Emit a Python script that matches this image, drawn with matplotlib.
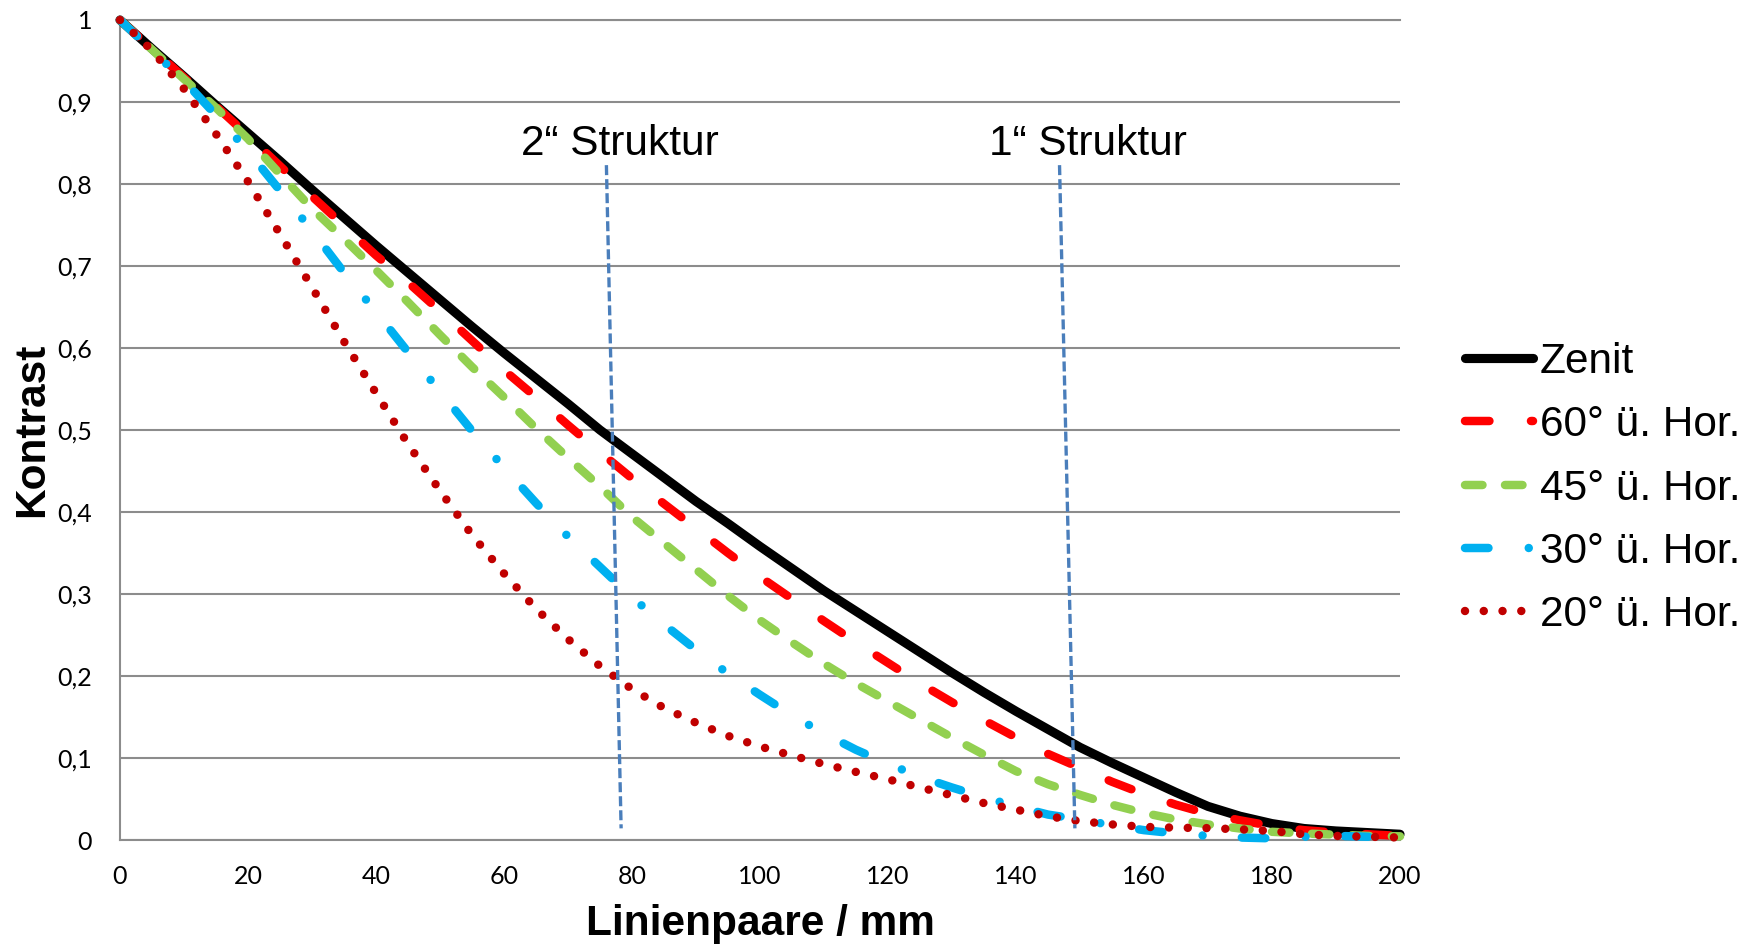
import matplotlib
matplotlib.use("Agg")
import matplotlib.pyplot as plt
from matplotlib.font_manager import FontProperties

plt.rcParams['lines.scale_dashes'] = False
plt.rcParams['font.family'] = ['Liberation Sans', 'DejaVu Sans']

# ---------------- data ----------------
x = [0, 5, 10, 15, 20, 25, 30, 35, 40, 45, 50, 55, 60, 65, 70, 75, 80, 85, 90, 95, 100,
     105, 110, 115, 120, 125, 130, 135, 140, 145, 150, 155, 160, 165, 170, 175, 180,
     185, 190, 195, 200]
zenit = [1.0, 0.965, 0.931, 0.896, 0.862, 0.828, 0.793, 0.759, 0.725, 0.692, 0.659,
         0.626, 0.594, 0.563, 0.532, 0.50, 0.471, 0.442, 0.413, 0.386, 0.358,
         0.331, 0.304, 0.279, 0.254, 0.229, 0.204, 0.18, 0.157, 0.135, 0.113,
         0.094, 0.076, 0.058, 0.041, 0.029, 0.02, 0.014, 0.011, 0.009, 0.007]
hor60 = [1.0, 0.965, 0.93, 0.895, 0.859, 0.822, 0.785, 0.749, 0.713, 0.68, 0.645,
         0.609, 0.573, 0.54, 0.506, 0.473, 0.441, 0.41, 0.38, 0.35, 0.321,
         0.294, 0.267, 0.241, 0.216, 0.191, 0.168, 0.146, 0.125, 0.105, 0.088,
         0.071, 0.056, 0.043, 0.032, 0.024, 0.017, 0.012, 0.009, 0.007, 0.005]
hor45 = [1.0, 0.964, 0.928, 0.893, 0.855, 0.812, 0.77, 0.733, 0.695, 0.656, 0.616,
         0.577, 0.54, 0.502, 0.466, 0.431, 0.394, 0.362, 0.33, 0.298, 0.268,
         0.241, 0.215, 0.191, 0.169, 0.147, 0.125, 0.104, 0.084, 0.068, 0.055,
         0.043, 0.033, 0.025, 0.019, 0.014, 0.010, 0.008, 0.0065, 0.005, 0.0045]
hor30 = [1.0, 0.963, 0.926, 0.884, 0.84, 0.792, 0.743, 0.692, 0.644, 0.595, 0.547,
         0.499, 0.454, 0.411, 0.37, 0.333, 0.296, 0.263, 0.232, 0.203, 0.177,
         0.152, 0.13, 0.11, 0.093, 0.077, 0.064, 0.052, 0.041, 0.031, 0.025,
         0.018, 0.012, 0.008, 0.005, 0.003, 0.002, 0.004, 0.005, 0.004, 0.004]
hor20 = [1.0, 0.963, 0.916, 0.861, 0.803, 0.739, 0.674, 0.608, 0.545, 0.483, 0.426,
         0.372, 0.325, 0.282, 0.245, 0.212, 0.184, 0.161, 0.143, 0.127, 0.114,
         0.103, 0.0925, 0.083, 0.074, 0.064, 0.0545, 0.045, 0.037, 0.029, 0.023,
         0.019, 0.016, 0.015, 0.0145, 0.013, 0.011, 0.007, 0.005, 0.004, 0.003]

series_labels = ['Zenit', '60° ü. Hor.', '45° ü. Hor.', '30° ü. Hor.', '20° ü. Hor.']

# structure marker lines (slightly slanted in the original)
struct_labels = ['2“ Struktur', '1“ Struktur']
struct_x = [[76.0, 78.3], [146.8, 149.2]]
struct_y = [[0.823, 0.0142], [0.823, 0.0142]]
struct_label_x = [78.1, 151.3]
struct_label_y = 0.835

xticks = [0, 20, 40, 60, 80, 100, 120, 140, 160, 180, 200]
yticks = [0, 0.1, 0.2, 0.3, 0.4, 0.5, 0.6, 0.7, 0.8, 0.9, 1.0]
ytick_labels = ['0', '0,1', '0,2', '0,3', '0,4', '0,5', '0,6', '0,7', '0,8', '0,9', '1']

# ---------------- figure ----------------
W, H = 1758, 946
fig = plt.figure(figsize=(W / 100, H / 100), dpi=100)
ax = fig.add_axes([120 / W, 1 - 840 / H, 1280 / W, 820 / H])

lw = 6.1
ax.plot(x, zenit, color='black', lw=6.6, solid_capstyle='round', solid_joinstyle='round',
        label=series_labels[0], clip_on=False, zorder=3)
ax.plot(x, hor60, color='#FF0000', lw=lw, dashes=(17.6, 29.9),
        dash_capstyle='round', label=series_labels[1], clip_on=False, zorder=4)
ax.plot(x, hor45, color='#92D050', lw=lw, dashes=(12.6, 16.2),
        dash_capstyle='round', label=series_labels[2], clip_on=False, zorder=5)
ax.plot(x, hor30, color='#00B0F0', lw=lw, dashes=(16.9, 29.0, 0.01, 28.3),
        dash_capstyle='round', label=series_labels[3], clip_on=False, zorder=6)
ax.plot(x, hor20, color='#C00000', lw=lw, dashes=(0.01, 13.5),
        dash_capstyle='round', label=series_labels[4], clip_on=False, zorder=7)

for sx, sy, lx, lab in zip(struct_x, struct_y, struct_label_x, struct_labels):
    ax.plot(sx, sy, color='#4A7EBB', lw=2.4, dashes=(7.2, 2.9),
            dash_capstyle='butt', clip_on=False, zorder=8)
    ax.text(lx, struct_label_y, lab, ha='center', va='baseline',
            fontsize=30.5, family=['Liberation Sans', 'DejaVu Sans'], zorder=9)

ax.set_xlim(0, 200)
ax.set_ylim(0, 1)
ax.set_xticks(xticks)
ax.set_xticklabels([str(v) for v in xticks])
ax.set_yticks(yticks)
ax.set_yticklabels(ytick_labels)
ax.tick_params(axis='both', length=0, labelsize=18)
ax.tick_params(axis='x', pad=18)
ax.tick_params(axis='y', pad=20)
for lab in ax.get_xticklabels() + ax.get_yticklabels():
    lab.set_family(['Lato', 'DejaVu Sans'])

grid_color = '#8C8C8C'
ax.yaxis.grid(True, color=grid_color, lw=1.5)
ax.xaxis.grid(False)
ax.set_axisbelow(True)
for side in ['left', 'bottom', 'top']:
    ax.spines[side].set_color(grid_color)
    ax.spines[side].set_linewidth(1.5)
ax.spines['right'].set_visible(False)

ax.set_xlabel('Linienpaare / mm', fontsize=30.5, fontweight='bold', va='baseline')
ax.xaxis.set_label_coords(0.5, -(935 - 840) / 820)
ax.set_ylabel('Kontrast', fontsize=30.5, fontweight='bold', va='center')
ax.yaxis.set_label_coords((32 - 120) / 1280, 0.5)

leg = ax.legend(loc='center left', bbox_to_anchor=(1465 / W, 1 - 488.5 / H),
                bbox_transform=fig.transFigure, frameon=False,
                prop=FontProperties(family='Liberation Sans', size=30.5),
                handlelength=1.6, handletextpad=0.165, labelspacing=0.55,
                borderpad=0, borderaxespad=0)

fig.savefig('out.png', dpi=100)
